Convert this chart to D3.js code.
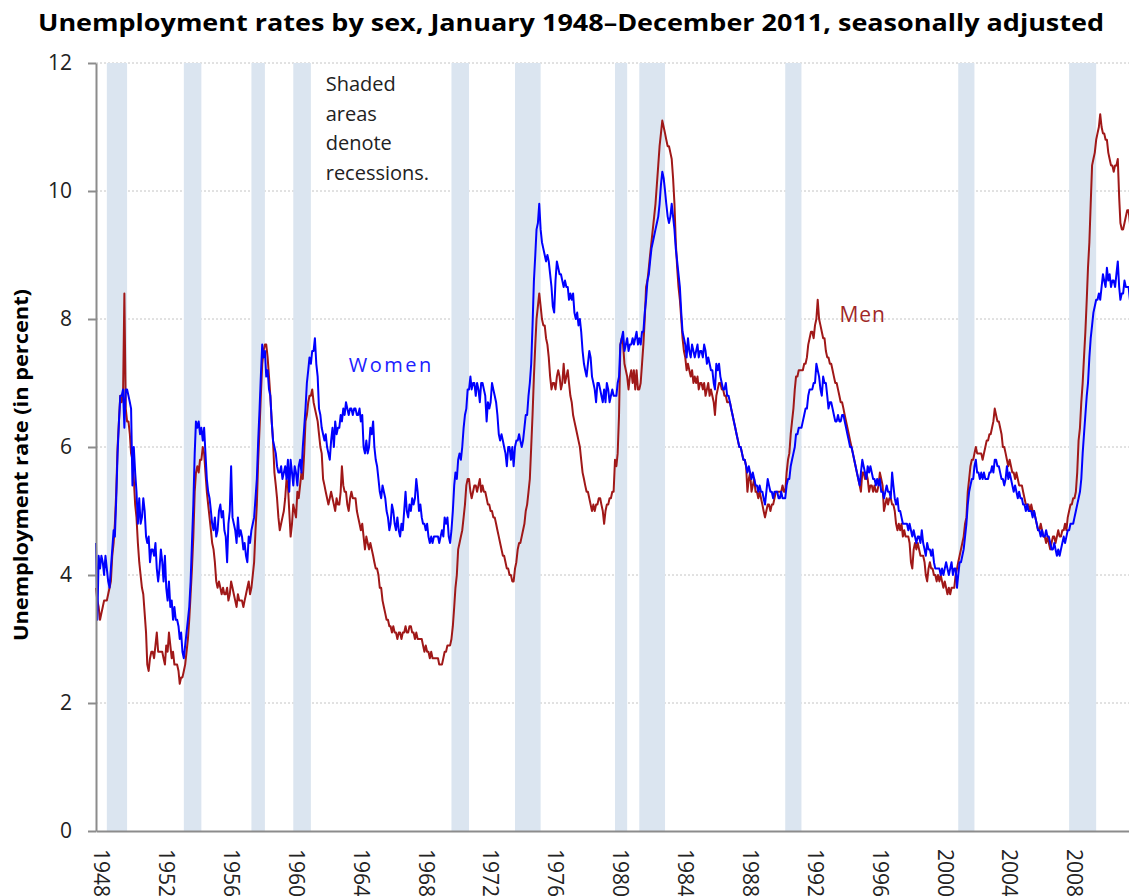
<!DOCTYPE html>
<html>
<head>
<meta charset="utf-8">
<script src="https://cdn.jsdelivr.net/npm/d3@7"></script>
<style>
  body { margin: 0; background: #fff; }
  svg text { font-family: 'Open Sans', 'Noto Sans', sans-serif; }
</style>
</head>
<body>
<div id="chart"></div>
<script>
// Unemployment rates by sex, monthly, Jan 1948 - Dec 2011 (percent)

const startYear = 1948;

// men, 12 values per year
const menRate = [
  3.8, 3.6, 3.5, 3.3, 3.4, 3.5, 3.6, 3.6, 3.6, 3.7, 3.8, 3.9, // 1948
  4.3, 4.5, 4.8, 5.3, 6.0, 6.4, 6.8, 6.7, 6.8, 8.4, 6.6, 6.4, // 1949
  6.4, 6.2, 5.9, 5.8, 5.5, 5.1, 4.9, 4.5, 4.2, 4.0, 3.8, 3.7, // 1950
  3.4, 3.1, 2.6, 2.5, 2.7, 2.8, 2.8, 2.7, 2.9, 3.1, 2.8, 2.8, // 1951
  2.8, 2.8, 2.7, 2.6, 2.9, 2.8, 3.1, 2.9, 2.7, 2.8, 2.6, 2.6, // 1952
  2.6, 2.5, 2.3, 2.4, 2.4, 2.5, 2.6, 2.8, 3.0, 3.3, 3.7, 4.1, // 1953
  4.6, 5.3, 5.6, 5.7, 5.6, 5.8, 5.8, 6.0, 5.9, 5.6, 5.3, 5.1, // 1954
  4.9, 4.7, 4.5, 4.4, 4.2, 3.9, 3.8, 3.9, 3.8, 3.7, 3.8, 3.7, // 1955
  3.7, 3.8, 3.6, 3.7, 3.9, 3.8, 3.7, 3.6, 3.5, 3.7, 3.6, 3.6, // 1956
  3.6, 3.5, 3.6, 3.7, 3.8, 3.9, 3.7, 3.8, 4.0, 4.2, 4.7, 5.1, // 1957
  5.8, 6.3, 6.8, 7.3, 7.5, 7.6, 7.6, 7.4, 7.1, 6.8, 6.4, 6.1, // 1958
  5.6, 5.4, 5.2, 4.9, 4.7, 4.8, 4.9, 5.0, 5.2, 5.5, 5.4, 5.0, // 1959
  4.6, 4.8, 5.1, 5.0, 4.9, 5.3, 5.2, 5.4, 5.6, 5.5, 5.9, 6.4, // 1960
  6.5, 6.7, 6.8, 6.8, 6.9, 6.7, 6.6, 6.5, 6.4, 6.2, 6.0, 5.9, // 1961
  5.5, 5.4, 5.3, 5.2, 5.1, 5.2, 5.3, 5.2, 5.1, 5.0, 5.2, 5.1, // 1962
  5.1, 5.3, 5.7, 5.4, 5.3, 5.3, 5.1, 5.0, 5.2, 5.3, 5.2, 5.2, // 1963
  5.2, 5.0, 4.9, 4.8, 4.7, 4.8, 4.6, 4.4, 4.6, 4.5, 4.4, 4.5, // 1964
  4.4, 4.3, 4.2, 4.1, 4.1, 4.0, 3.8, 3.8, 3.6, 3.5, 3.4, 3.3, // 1965
  3.3, 3.2, 3.2, 3.1, 3.2, 3.1, 3.1, 3.0, 3.1, 3.1, 3.0, 3.1, // 1966
  3.1, 3.2, 3.1, 3.1, 3.2, 3.2, 3.1, 3.1, 3.0, 3.1, 3.0, 3.0, // 1967
  3.0, 3.0, 2.9, 2.8, 2.9, 2.8, 2.8, 2.7, 2.8, 2.7, 2.7, 2.7, // 1968
  2.7, 2.7, 2.6, 2.6, 2.6, 2.7, 2.8, 2.8, 2.9, 2.9, 2.9, 3.0, // 1969
  3.2, 3.5, 3.8, 4.0, 4.4, 4.5, 4.6, 4.7, 4.9, 5.1, 5.4, 5.5, // 1970
  5.5, 5.3, 5.2, 5.3, 5.4, 5.4, 5.3, 5.4, 5.5, 5.3, 5.4, 5.3, // 1971
  5.3, 5.2, 5.1, 5.1, 5.0, 5.0, 4.9, 4.9, 4.8, 4.7, 4.6, 4.5, // 1972
  4.4, 4.3, 4.3, 4.2, 4.1, 4.1, 4.0, 4.0, 3.9, 3.9, 4.1, 4.2, // 1973
  4.4, 4.5, 4.5, 4.6, 4.7, 4.8, 5.0, 5.1, 5.3, 5.5, 6.0, 6.5, // 1974
  7.1, 7.6, 8.0, 8.2, 8.4, 8.2, 8.0, 7.9, 7.9, 7.7, 7.6, 7.4, // 1975
  7.1, 6.9, 7.0, 7.0, 6.9, 7.1, 7.2, 7.1, 6.9, 7.0, 7.3, 7.0, // 1976
  7.1, 7.2, 7.0, 6.8, 6.7, 6.5, 6.4, 6.3, 6.2, 6.1, 6.0, 5.8, // 1977
  5.6, 5.5, 5.4, 5.3, 5.3, 5.2, 5.1, 5.0, 5.1, 5.0, 5.1, 5.1, // 1978
  5.2, 5.2, 5.1, 5.0, 4.8, 5.0, 5.1, 5.1, 5.2, 5.2, 5.3, 5.3, // 1979
  5.8, 5.7, 5.9, 6.5, 7.6, 7.7, 7.6, 7.3, 7.2, 7.1, 6.9, 7.1, // 1980
  7.2, 7.0, 7.2, 6.9, 7.2, 6.9, 6.9, 7.0, 7.3, 7.6, 8.0, 8.5, // 1981
  8.6, 8.8, 9.0, 9.2, 9.4, 9.6, 9.8, 10.1, 10.4, 10.7, 10.9, 11.1, // 1982
  11.0, 10.9, 10.8, 10.7, 10.7, 10.6, 10.5, 10.2, 9.8, 9.2, 8.8, 8.5, // 1983
  8.3, 8.0, 7.7, 7.5, 7.4, 7.2, 7.3, 7.2, 7.1, 7.2, 7.0, 7.1, // 1984
  7.0, 7.1, 6.9, 7.0, 7.0, 6.9, 7.0, 6.8, 6.9, 7.0, 6.8, 6.9, // 1985
  6.8, 6.7, 6.5, 6.8, 6.9, 7.0, 7.0, 6.9, 6.9, 6.8, 6.8, 6.7, // 1986
  6.7, 6.7, 6.6, 6.5, 6.4, 6.3, 6.2, 6.1, 6.0, 6.0, 5.9, 5.8, // 1987
  5.8, 5.7, 5.3, 5.5, 5.6, 5.3, 5.4, 5.5, 5.3, 5.3, 5.2, 5.3, // 1988
  5.2, 5.1, 5.0, 4.9, 5.0, 5.1, 5.1, 5.0, 5.1, 5.1, 5.2, 5.3, // 1989
  5.3, 5.3, 5.3, 5.3, 5.4, 5.3, 5.3, 5.6, 5.8, 5.9, 6.2, 6.4, // 1990
  6.6, 6.9, 7.1, 7.1, 7.2, 7.2, 7.2, 7.2, 7.3, 7.3, 7.4, 7.6, // 1991
  7.7, 7.8, 7.8, 7.7, 7.9, 8.0, 8.3, 8.0, 7.9, 7.8, 7.7, 7.7, // 1992
  7.5, 7.4, 7.4, 7.3, 7.3, 7.2, 7.1, 7.0, 7.0, 6.9, 6.8, 6.7, // 1993
  6.7, 6.6, 6.5, 6.4, 6.3, 6.2, 6.1, 6.0, 5.9, 5.8, 5.7, 5.6, // 1994
  5.5, 5.4, 5.3, 5.6, 5.6, 5.5, 5.6, 5.5, 5.3, 5.4, 5.4, 5.3, // 1995
  5.4, 5.3, 5.3, 5.4, 5.6, 5.5, 5.4, 5.0, 5.1, 5.2, 5.1, 5.2, // 1996
  5.2, 5.1, 5.1, 5.0, 4.8, 4.7, 4.8, 4.7, 4.8, 4.6, 4.7, 4.6, // 1997
  4.6, 4.6, 4.5, 4.2, 4.1, 4.4, 4.5, 4.4, 4.5, 4.4, 4.3, 4.3, // 1998
  4.3, 4.2, 4.0, 3.9, 4.1, 4.2, 4.1, 4.1, 4.0, 4.0, 3.9, 4.0, // 1999
  3.9, 4.0, 3.9, 3.8, 3.9, 3.8, 3.7, 3.8, 3.7, 3.8, 3.8, 3.8, // 2000
  4.0, 4.1, 4.2, 4.3, 4.4, 4.5, 4.6, 4.8, 4.9, 5.3, 5.5, 5.7, // 2001
  5.8, 5.8, 5.9, 6.0, 5.9, 5.9, 5.9, 5.9, 5.8, 5.9, 6.0, 6.1, // 2002
  6.1, 6.2, 6.2, 6.3, 6.4, 6.6, 6.5, 6.4, 6.4, 6.3, 6.2, 6.0, // 2003
  6.0, 5.9, 5.8, 5.7, 5.8, 5.7, 5.6, 5.6, 5.5, 5.6, 5.5, 5.4, // 2004
  5.4, 5.4, 5.3, 5.2, 5.1, 5.1, 5.1, 5.0, 5.1, 5.0, 5.0, 4.9, // 2005
  4.8, 4.7, 4.7, 4.8, 4.7, 4.6, 4.6, 4.5, 4.6, 4.5, 4.4, 4.5, // 2006
  4.6, 4.6, 4.5, 4.6, 4.7, 4.6, 4.6, 4.7, 4.7, 4.8, 4.7, 4.9, // 2007
  5.0, 5.1, 5.1, 5.2, 5.2, 5.3, 5.6, 6.1, 6.3, 6.7, 7.0, 7.4, // 2008
  7.8, 8.3, 8.8, 9.2, 9.8, 10.4, 10.5, 10.6, 10.8, 10.9, 11.0, 11.2, // 2009
  11.0, 10.9, 10.9, 10.8, 10.8, 10.6, 10.5, 10.4, 10.4, 10.3, 10.4, 10.4, // 2010
  10.5, 9.9, 9.5, 9.4, 9.4, 9.5, 9.6, 9.7, 9.7, 9.5, 9.1, 8.8, // 2011
];

// women, 12 values per year
const womenRate = [
  4.5, 3.3, 4.3, 4.1, 4.3, 4.2, 4.0, 4.3, 4.1, 3.9, 3.8, 4.1, // 1948
  4.4, 4.7, 4.6, 5.2, 5.9, 6.4, 6.8, 6.8, 6.9, 6.3, 6.9, 6.9, // 1949
  6.8, 6.7, 6.6, 5.4, 6.0, 5.6, 5.3, 4.8, 5.2, 4.8, 4.9, 5.2, // 1950
  5.0, 4.6, 4.5, 4.6, 4.2, 4.4, 4.4, 4.3, 4.5, 4.1, 3.9, 4.1, // 1951
  4.4, 4.2, 3.9, 4.3, 3.8, 3.6, 3.9, 3.5, 3.6, 3.3, 3.5, 3.3, // 1952
  3.3, 3.2, 3.0, 3.1, 2.8, 2.7, 2.9, 3.1, 3.3, 3.5, 3.9, 4.5, // 1953
  5.1, 5.9, 6.4, 6.3, 6.4, 6.2, 6.3, 6.1, 6.3, 5.9, 5.5, 5.3, // 1954
  5.2, 5.0, 4.8, 4.7, 4.9, 4.6, 4.7, 5.0, 5.1, 4.9, 5.0, 4.7, // 1955
  4.6, 4.2, 4.8, 5.0, 5.7, 4.9, 4.8, 4.7, 4.5, 4.9, 4.6, 4.7, // 1956
  4.6, 4.4, 4.5, 4.3, 4.2, 4.6, 4.5, 4.7, 4.8, 4.9, 5.2, 5.5, // 1957
  6.1, 6.6, 7.1, 7.6, 7.4, 7.5, 7.1, 7.2, 6.9, 6.8, 6.4, 6.1, // 1958
  6.0, 5.9, 5.7, 5.6, 5.6, 5.7, 5.5, 5.6, 5.7, 5.5, 5.8, 5.3, // 1959
  5.8, 5.6, 5.4, 5.7, 5.6, 5.4, 5.7, 5.8, 5.6, 6.0, 6.3, 6.6, // 1960
  7.0, 7.2, 7.4, 7.3, 7.5, 7.5, 7.7, 7.3, 7.1, 6.6, 6.5, 6.3, // 1961
  6.2, 6.1, 6.2, 6.0, 5.9, 5.8, 6.1, 6.3, 6.0, 6.4, 6.2, 6.3, // 1962
  6.3, 6.5, 6.4, 6.6, 6.5, 6.7, 6.6, 6.5, 6.6, 6.6, 6.5, 6.6, // 1963
  6.6, 6.5, 6.5, 6.6, 6.4, 6.5, 6.0, 5.9, 6.1, 5.9, 6.0, 6.3, // 1964
  6.2, 6.4, 6.0, 5.8, 5.7, 5.5, 5.3, 5.2, 5.4, 5.3, 5.2, 5.0, // 1965
  4.9, 4.7, 4.8, 5.1, 5.0, 4.8, 4.7, 4.9, 4.7, 4.6, 4.8, 4.7, // 1966
  5.0, 5.3, 5.0, 4.9, 5.1, 5.0, 5.2, 5.1, 5.2, 5.5, 5.3, 5.0, // 1967
  5.1, 4.9, 4.8, 4.8, 4.7, 4.8, 4.6, 4.5, 4.6, 4.5, 4.6, 4.6, // 1968
  4.6, 4.6, 4.5, 4.6, 4.7, 4.6, 4.9, 4.8, 4.9, 4.6, 4.5, 4.7, // 1969
  5.0, 5.4, 5.6, 5.5, 5.8, 5.9, 5.8, 6.0, 6.3, 6.5, 6.6, 6.9, // 1970
  6.9, 7.1, 6.9, 7.0, 7.0, 6.8, 7.0, 6.9, 6.7, 7.0, 7.0, 6.9, // 1971
  6.8, 6.4, 6.7, 6.6, 6.7, 7.0, 6.9, 6.8, 6.7, 6.5, 6.2, 6.1, // 1972
  6.2, 6.1, 6.0, 5.9, 5.7, 6.0, 6.0, 5.8, 6.0, 5.7, 6.0, 6.1, // 1973
  6.1, 6.2, 6.1, 6.0, 6.1, 6.3, 6.5, 6.5, 6.8, 7.0, 7.3, 7.9, // 1974
  8.6, 9.0, 9.4, 9.5, 9.8, 9.4, 9.2, 9.1, 9.0, 8.9, 9.0, 8.9, // 1975
  8.7, 8.5, 8.2, 8.1, 8.6, 8.9, 8.8, 8.7, 8.7, 8.6, 8.5, 8.6, // 1976
  8.5, 8.5, 8.3, 8.4, 8.3, 8.4, 8.1, 8.0, 8.1, 7.9, 8.0, 7.8, // 1977
  7.5, 7.3, 7.2, 7.1, 7.3, 7.5, 7.4, 7.1, 7.0, 6.9, 6.7, 7.0, // 1978
  7.0, 6.9, 6.8, 6.7, 6.9, 6.7, 7.0, 6.9, 6.7, 6.8, 6.9, 6.8, // 1979
  6.8, 6.8, 7.0, 7.1, 7.6, 7.7, 7.8, 7.5, 7.6, 7.7, 7.5, 7.6, // 1980
  7.6, 7.7, 7.6, 7.7, 7.8, 7.6, 7.7, 7.6, 7.8, 7.8, 8.1, 8.3, // 1981
  8.6, 8.7, 8.9, 9.1, 9.2, 9.3, 9.4, 9.5, 9.6, 9.8, 10.1, 10.3, // 1982
  10.2, 10.0, 9.8, 9.6, 9.5, 9.6, 9.8, 9.6, 9.4, 9.1, 8.9, 8.7, // 1983
  8.5, 8.1, 7.8, 7.7, 7.6, 7.4, 7.7, 7.5, 7.4, 7.6, 7.5, 7.4, // 1984
  7.5, 7.6, 7.4, 7.5, 7.5, 7.4, 7.6, 7.5, 7.3, 7.4, 7.3, 7.2, // 1985
  7.2, 7.0, 6.9, 7.3, 7.2, 7.3, 7.1, 7.0, 6.9, 6.9, 7.0, 6.8, // 1986
  6.8, 6.7, 6.6, 6.5, 6.4, 6.3, 6.2, 6.1, 6.0, 6.0, 5.9, 5.8, // 1987
  5.8, 5.7, 5.6, 5.7, 5.6, 5.5, 5.6, 5.5, 5.4, 5.4, 5.3, 5.4, // 1988
  5.3, 5.3, 5.2, 5.1, 5.3, 5.5, 5.4, 5.3, 5.3, 5.2, 5.3, 5.3, // 1989
  5.3, 5.2, 5.2, 5.3, 5.2, 5.2, 5.2, 5.4, 5.5, 5.5, 5.7, 5.8, // 1990
  5.9, 6.0, 6.2, 6.2, 6.3, 6.3, 6.3, 6.4, 6.5, 6.6, 6.6, 6.8, // 1991
  6.9, 6.9, 6.9, 7.0, 7.0, 7.3, 7.2, 7.1, 6.9, 6.8, 7.1, 7.0, // 1992
  7.0, 6.8, 6.6, 6.7, 6.7, 6.6, 6.5, 6.4, 6.4, 6.5, 6.4, 6.4, // 1993
  6.5, 6.5, 6.4, 6.3, 6.2, 6.1, 6.0, 6.0, 5.9, 5.8, 5.7, 5.6, // 1994
  5.5, 5.4, 5.6, 5.8, 5.7, 5.6, 5.5, 5.7, 5.6, 5.7, 5.6, 5.5, // 1995
  5.5, 5.4, 5.5, 5.4, 5.5, 5.3, 5.3, 5.2, 5.3, 5.4, 5.3, 5.3, // 1996
  5.2, 5.6, 5.4, 5.2, 5.1, 5.2, 5.0, 5.0, 4.9, 4.8, 4.8, 4.8, // 1997
  4.8, 4.7, 4.8, 4.7, 4.6, 4.7, 4.6, 4.5, 4.6, 4.6, 4.5, 4.7, // 1998
  4.5, 4.4, 4.3, 4.5, 4.4, 4.4, 4.3, 4.4, 4.2, 4.1, 4.1, 4.1, // 1999
  4.1, 4.0, 4.1, 4.0, 4.1, 4.2, 4.1, 4.0, 4.1, 4.2, 4.0, 4.1, // 2000
  4.1, 3.8, 4.0, 4.2, 4.2, 4.3, 4.4, 4.6, 4.8, 5.1, 5.3, 5.4, // 2001
  5.5, 5.5, 5.7, 5.8, 5.6, 5.6, 5.5, 5.6, 5.5, 5.6, 5.5, 5.5, // 2002
  5.5, 5.6, 5.6, 5.7, 5.6, 5.8, 5.8, 5.7, 5.7, 5.6, 5.5, 5.5, // 2003
  5.4, 5.5, 5.7, 5.5, 5.6, 5.5, 5.4, 5.3, 5.4, 5.3, 5.2, 5.3, // 2004
  5.2, 5.2, 5.1, 5.1, 5.0, 5.1, 5.0, 5.0, 5.0, 4.9, 5.0, 4.9, // 2005
  4.8, 4.7, 4.7, 4.6, 4.7, 4.6, 4.6, 4.7, 4.6, 4.6, 4.5, 4.4, // 2006
  4.4, 4.5, 4.4, 4.3, 4.4, 4.3, 4.4, 4.5, 4.6, 4.5, 4.6, 4.7, // 2007
  4.7, 4.8, 4.8, 4.8, 4.9, 5.0, 5.1, 5.2, 5.3, 5.5, 5.9, 6.2, // 2008
  6.5, 6.8, 7.0, 7.4, 7.7, 7.9, 8.1, 8.2, 8.3, 8.3, 8.4, 8.3, // 2009
  8.5, 8.7, 8.6, 8.5, 8.8, 8.6, 8.7, 8.5, 8.6, 8.6, 8.5, 8.7, // 2010
  8.9, 8.5, 8.3, 8.4, 8.4, 8.6, 8.5, 8.5, 8.5, 8.3, 8.3, 8.1, // 2011
];

// recession shading, first and last month of each band
const recessions = [
  ['1948-09', '1949-12'],
  ['1953-06', '1954-07'],
  ['1957-08', '1958-06'],
  ['1960-03', '1961-04'],
  ['1969-12', '1971-01'],
  ['1973-11', '1975-06'],
  ['1980-01', '1980-10'],
  ['1981-07', '1983-02'],
  ['1990-07', '1991-07'],
  ['2001-03', '2002-03'],
  ['2008-01', '2009-09'],
];

const yTicks = [0, 2, 4, 6, 8, 10, 12];
const xTickYears = [1948, 1952, 1956, 1960, 1964, 1968, 1972, 1976, 1980, 1984, 1988, 1992, 1996, 2000, 2004, 2008];

// set the dimensions and margins of the graph
const W = 1129;
const H = 896;
const margin = { top: 63, left: 96, bottom: 65 };
const plotRight = 1134; // plot runs a little past the window edge

const parseMonth = d3.timeParse('%Y-%m');

const xScale = d3.scaleTime()
  .domain([new Date(startYear, 0, 1), new Date(2012, 0, 1)])
  .range([margin.left, plotRight]);
const yScale = d3.scaleLinear()
  .domain([0, 12])
  .range([H - margin.bottom, margin.top]);

const monthDate = i => new Date(startYear, i, 1);

const svg = d3.select('#chart')
  .append('svg')
  .attr('width', W)
  .attr('height', H);

// title
svg.append('text')
  .attr('x', 571)
  .attr('y', 31)
  .attr('text-anchor', 'middle')
  .attr('font-size', 24)
  .attr('font-weight', 'bold')
  .attr('fill', '#000')
  .attr('textLength', 1066)
  .attr('lengthAdjust', 'spacingAndGlyphs')
  .text('Unemployment rates by sex, January 1948\u2013December 2011, seasonally adjusted');

// dotted gridlines
svg.append('g')
  .selectAll('line')
  .data(yTicks.filter(d => d > 0))
  .enter()
  .append('line')
  .attr('x1', margin.left)
  .attr('x2', plotRight)
  .attr('y1', d => yScale(d))
  .attr('y2', d => yScale(d))
  .attr('stroke', '#c4c4c4')
  .attr('stroke-width', 1)
  .attr('stroke-dasharray', '2,2');

// recession bands
svg.append('g')
  .selectAll('rect')
  .data(recessions)
  .enter()
  .append('rect')
  .attr('x', d => xScale(parseMonth(d[0])))
  .attr('width', d => xScale(parseMonth(d[1])) - xScale(parseMonth(d[0])))
  .attr('y', yScale(12))
  .attr('height', yScale(0) - yScale(12))
  .attr('fill', '#dbe5f0');

// define the lines
const rateLine = d3.line()
  .x((d, i) => xScale(monthDate(i)))
  .y(d => yScale(d));

svg.append('path')
  .datum(menRate)
  .attr('fill', 'none')
  .attr('stroke', '#a01818')
  .attr('stroke-width', 2)
  .attr('stroke-linejoin', 'round')
  .attr('d', rateLine);

svg.append('path')
  .datum(womenRate)
  .attr('fill', 'none')
  .attr('stroke', '#0000ff')
  .attr('stroke-width', 2)
  .attr('stroke-linejoin', 'round')
  .attr('d', rateLine);

// Y axis
const yAxis = svg.append('g')
  .attr('transform', `translate(${margin.left},0)`)
  .call(d3.axisLeft(yScale).tickValues(yTicks).tickSize(8).tickSizeOuter(0).tickPadding(16));
yAxis.select('.domain').attr('stroke', '#8c8c8c').attr('stroke-width', 2);
yAxis.selectAll('.tick line').attr('stroke', '#8c8c8c').attr('stroke-width', 2);
yAxis.selectAll('.tick text')
  .attr('font-family', "'Open Sans', sans-serif")
  .attr('font-size', 21)
  .attr('fill', '#222');

// X axis
const xAxis = svg.append('g')
  .attr('transform', `translate(0,${yScale(0)})`)
  .call(d3.axisBottom(xScale)
    .tickValues(xTickYears.map(y => new Date(y, 0, 1)))
    .tickFormat(d3.timeFormat('%Y'))
    .tickSize(0)
    .tickSizeOuter(0));
xAxis.select('.domain').attr('stroke', '#8c8c8c').attr('stroke-width', 2);
xAxis.selectAll('.tick text')
  .attr('font-family', "'Open Sans', sans-serif")
  .attr('font-size', 21)
  .attr('fill', '#222')
  .attr('text-anchor', 'start')
  .attr('transform', 'translate(5,18) rotate(90)')
  .attr('x', 0)
  .attr('y', 0)
  .attr('dy', '0.35em');

// y axis title
svg.append('text')
  .attr('transform', `translate(28,${(yScale(0) + yScale(12)) / 2 + 18}) rotate(-90)`)
  .attr('text-anchor', 'middle')
  .attr('font-size', 20)
  .attr('font-weight', 'bold')
  .attr('fill', '#000')
  .attr('textLength', 352)
  .attr('lengthAdjust', 'spacingAndGlyphs')
  .text('Unemployment rate (in percent)');

// note about the shading
const note = svg.append('text')
  .attr('font-size', 20)
  .attr('fill', '#222');
['Shaded', 'areas', 'denote', 'recessions.'].forEach((t, i) => {
  note.append('tspan')
    .attr('x', xScale(new Date(1962, 2, 1)))
    .attr('y', 91 + i * 29.5)
    .text(t);
});

// series labels
svg.append('text')
  .attr('x', xScale(new Date(1963, 7, 1)))
  .attr('y', yScale(7.17))
  .attr('font-size', 20)
  .attr('letter-spacing', 2.5)
  .attr('fill', '#2020ff')
  .text('Women');

svg.append('text')
  .attr('x', xScale(new Date(1993, 10, 1)))
  .attr('y', yScale(7.95))
  .attr('font-size', 21)
  .attr('letter-spacing', 1)
  .attr('fill', '#a02828')
  .text('Men');
</script>
</body>
</html>
